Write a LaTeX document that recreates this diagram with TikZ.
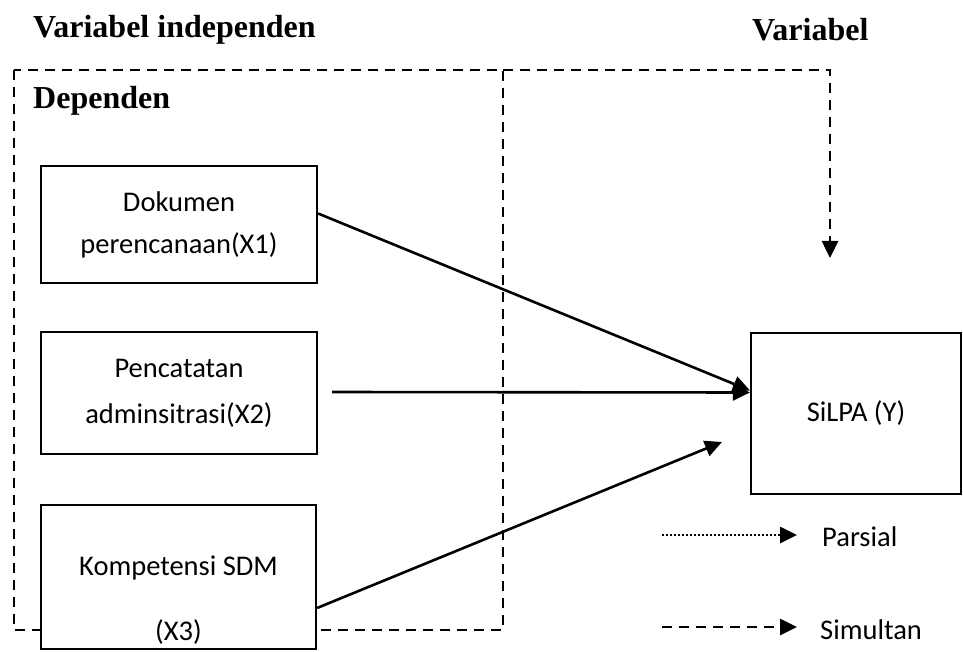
\documentclass[tikz,border=0pt]{standalone}
\usepackage{fontspec}
\setmainfont{Liberation Serif}
\newfontfamily\boxfont{Carlito}
\usepackage{tikz}
\usetikzlibrary{arrows.meta,positioning,calc}

\begin{document}
\begin{tikzpicture}[
    x=1pt, y=-1pt,
    box/.style={rectangle, draw, fill=white, line width=2.2pt, align=center, minimum width=276pt, font=\boxfont\fontsize{28.5}{43}\selectfont},
    head/.style={font=\bfseries\fontsize{32}{36}\selectfont, anchor=west, inner sep=0pt},
    legend/.style={font=\boxfont\fontsize{28.5}{34}\selectfont, anchor=west, inner sep=0pt},
    arrow/.style={-{Triangle[length=17pt,width=16pt]}, line width=2.6pt},
    simline/.style={line width=2.4pt, dash pattern=on 10pt off 7pt},
    parline/.style={line width=2.4pt, dash pattern=on 2pt off 2pt}
]
    \useasboundingbox (0,0) rectangle (963,652);

    % headings
    \node[head] (indep) at (33,30) {Variabel independen};
    \node[head] (dep) at (752,30) {Variabel};
    \node[head] (depend) at (33,101) {Dependen};

    % dashed frame and simultaneous path
    \coordinate (frame1) at (14,70);
    \coordinate (frame2) at (503,630);
    \coordinate (simtop) at (830,70);
    \coordinate (simtip) at (830,258);
    \draw[simline] (frame1) rectangle (frame2);
    \draw[simline, arrow] (frame2 |- frame1) -- (simtop) -- (simtip);

    % variables
    \node[box, minimum height=117pt] (dok) at (179,224.5) {Dokumen\\[-1pt]perencanaan(X1)};
    \node[box, minimum height=122pt] (catat) at (179,393) {Pencatatan\\[3pt]adminsitrasi(X2)};
    \node[box, minimum width=275pt, minimum height=144pt] (sdm) at (178.5,577) {\rule{0pt}{66pt}Kompetensi SDM\\[22pt](X3)};
    \node[box, minimum width=210pt, minimum height=161pt] (silpa) at (856,413.5) {SiLPA (Y)};

    \draw[arrow] ([yshift=11pt]dok.east) -- ([yshift=23pt]silpa.west);
    \draw[arrow] ([xshift=14pt,yshift=1pt]catat.east) -- ([yshift=21pt]silpa.west);
    \coordinate (sdmtip) at (722,442);
    \draw[arrow] ([yshift=-31pt]sdm.east) -- (sdmtip);

    % legend
    \node[legend] (parsial) at (822,537) {Parsial};
    \node[legend] (simultan) at (820,630) {Simultan};
    \coordinate (pstart) at (662,535);
    \coordinate (sstart) at (662,627);
    \draw[parline, arrow, shorten >=25pt] (pstart) -- (pstart -| parsial.west);
    \draw[simline, arrow, shorten >=23pt] (sstart) -- (sstart -| simultan.west);
\end{tikzpicture}
\end{document}
